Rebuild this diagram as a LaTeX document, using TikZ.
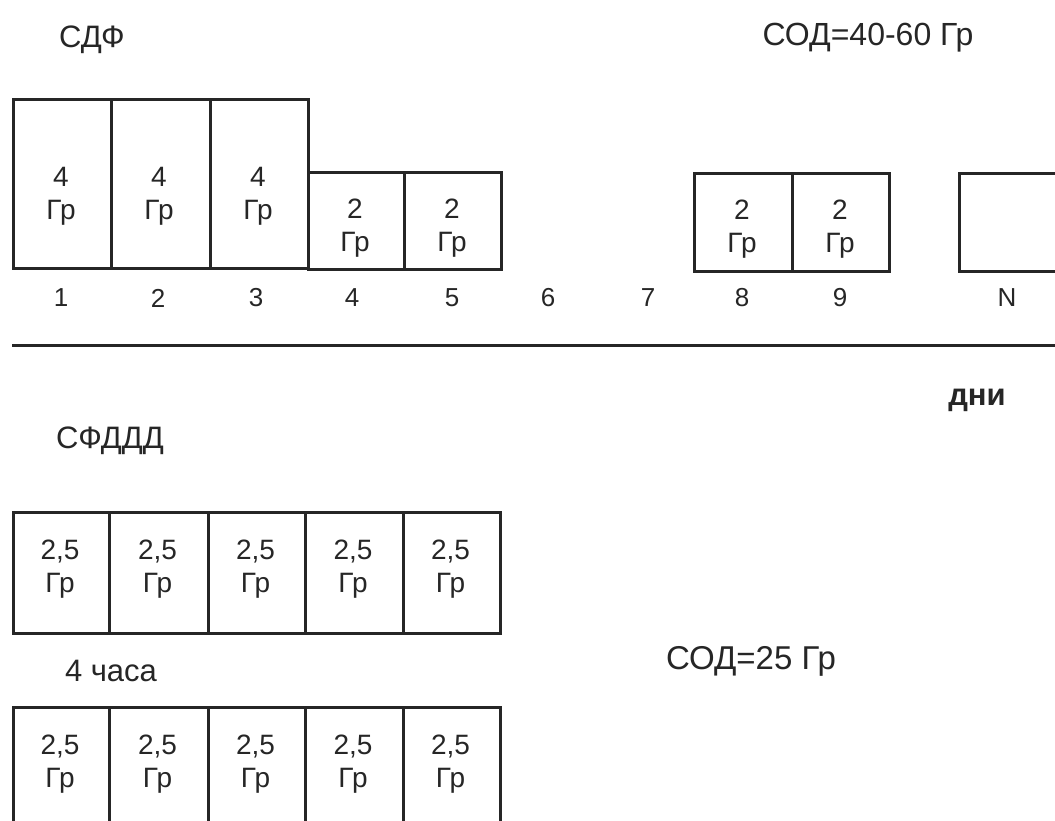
\documentclass[tikz,border=0pt]{standalone}
\usepackage{fontspec}
\setmainfont{Liberation Sans}
\begin{document}
\begin{tikzpicture}[x=1pt,y=-1pt,
  cell/.style={draw=black!85,line width=3pt,inner sep=0pt,anchor=north west},
  val/.style={align=center,font=\fontsize{28}{33}\selectfont,text=black!85,inner sep=0pt},
  num/.style={font=\fontsize{26}{30}\selectfont,text=black!85,inner sep=0pt},
  head/.style={font=\fontsize{31}{34}\selectfont,text=black!85,inner sep=0pt}]
\useasboundingbox[fill=white] (0,0) rectangle (1055,820);
% headings
\node[head] (sdf) at (92,40) {СДФ};
\node[head,font=\fontsize{32}{34}\selectfont] (sod1) at (868,38) {СОД=40-60 Гр};
% top row of fractions
\node[cell,minimum width=98pt,minimum height=169pt] (b1) at (12,98) {};
\node[cell,minimum width=99pt,minimum height=169pt] (b2) at (110,98) {};
\node[cell,minimum width=98pt,minimum height=169pt] (b3) at (209,98) {};
\node[cell,minimum width=96pt,minimum height=97pt] (b4) at (307,171) {};
\node[cell,minimum width=97pt,minimum height=97pt] (b5) at (403,171) {};
\node[cell,minimum width=98pt,minimum height=98pt] (b8) at (693,172) {};
\node[cell,minimum width=97pt,minimum height=98pt] (b9) at (791,172) {};
\node[cell,minimum width=110pt,minimum height=98pt] (bN) at (958,172) {};
\node[val] (t1) at (61,196) {4\\Гр};
\node[val] (t2) at (159,196) {4\\Гр};
\node[val] (t3) at (258,196) {4\\Гр};
\node[val] (t4) at (355,228) {2\\Гр};
\node[val] (t5) at (452,228) {2\\Гр};
\node[val] (t8) at (742,229) {2\\Гр};
\node[val] (t9) at (840,229) {2\\Гр};
% day numbers
\node[num] (n1) at (61,298) {1};
\node[num] (n2) at (158,298) {2};
\node[num] (n3) at (256,298) {3};
\node[num] (n4) at (352,298) {4};
\node[num] (n5) at (452,298) {5};
\node[num] (n6) at (548,298) {6};
\node[num] (n7) at (648,298) {7};
\node[num] (n8) at (742,298) {8};
\node[num] (n9) at (840,298) {9};
\node[num] (nN) at (1007,298) {N};
% axis
\coordinate (axL) at (12,345);
\coordinate (axR) at (1058,345);
\draw[black!85,line width=3pt] (axL) -- (axR);
\node[head,font=\bfseries\fontsize{31}{34}\selectfont] (dni) at (977,400) {дни};
% lower scheme
\node[head] (sfddd) at (110,441) {СФДДД};
\foreach \i/\x/\w in {1/12/96,2/108/99,3/207/97,4/304/98,5/402/97}{
  \node[cell,minimum width=\w pt,minimum height=121pt] (r\i) at (\x,511) {};
  \node[val] (rt\i) at (\x+\w/2,569) {2,5\\Гр};
  \node[cell,minimum width=\w pt,minimum height=130pt] (s\i) at (\x,706) {};
  \node[val] (st\i) at (\x+\w/2,764) {2,5\\Гр};
}
\node[head] (hours) at (111,671) {4 часа};
\node[head,font=\fontsize{33}{36}\selectfont] (sod2) at (751,661) {СОД=25 Гр};
\end{tikzpicture}
\end{document}
